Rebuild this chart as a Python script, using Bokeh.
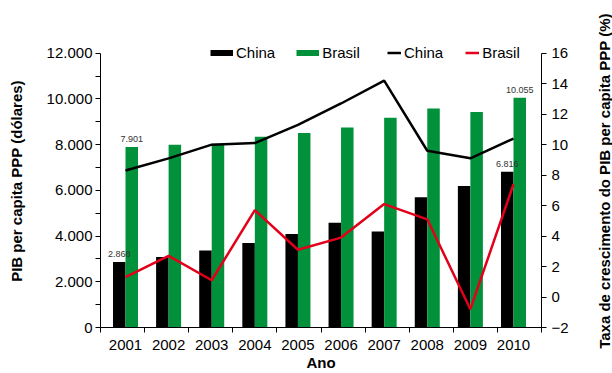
import math
from bokeh.plotting import figure
from bokeh.layouts import row
from bokeh.models import (Range1d, LinearAxis, FixedTicker, Legend, LegendItem,
                          ColumnDataSource)
from bokeh.core.properties import value
from bokeh.embed import file_html
from bokeh.resources import INLINE

# ---- data ----
years = [2001, 2002, 2003, 2004, 2005, 2006, 2007, 2008, 2009, 2010]
pib_china = [2868, 3080, 3370, 3700, 4090, 4580, 4200, 5700, 6190, 6816]
pib_brasil = [7901, 8000, 8040, 8340, 8510, 8750, 9180, 9580, 9430, 10055]
cresc_china = [8.3, 9.1, 10.0, 10.1, 11.3, 12.7, 14.2, 9.6, 9.1, 10.4]
cresc_brasil = [1.3, 2.7, 1.1, 5.7, 3.1, 3.9, 6.1, 5.1, -0.8, 7.4]
left_ticks = [0, 2000, 4000, 6000, 8000, 10000, 12000]
right_ticks = [-2, 0, 2, 4, 6, 8, 10, 12, 14, 16]

FONT = "Liberation Sans"
GREEN = "#00913a"
RED = "#e2001a"

TITLE_W = 19
W, H = 612 - TITLE_W, 373
BL, BR, BT, BB = 100, W - 541, 34, 46
FW = W - BL - BR
FH = H - BT - BB
TOP_AXIS_PX = 52.7          # screen y of the 12.000 / 16 tick
AX_H = (H - BB) - TOP_AXIS_PX
pad = FH / AX_H

px_per_year = 43.11
x0 = years[0] - 25 / px_per_year
x1 = x0 + FW / px_per_year
bw = 0.29

lmin, lmax = left_ticks[0], left_ticks[-1]
rmin, rmax = right_ticks[0], right_ticks[-1]

p = figure(width=W, height=H, output_backend="svg", toolbar_location=None,
           x_range=Range1d(x0, x1),
           y_range=Range1d(lmin, lmin + (lmax - lmin) * pad),
           min_border_left=BL, min_border_right=BR, min_border_top=BT,
           min_border_bottom=BB)
p.extra_y_ranges = {"taxa": Range1d(rmin, rmin + (rmax - rmin) * pad)}
p.grid.visible = False
p.outline_line_color = None
p.background_fill_color = "white"
p.border_fill_color = "white"

src = ColumnDataSource(dict(
    xc=[y - bw / 2 for y in years], xb=[y + bw / 2 for y in years], x=years,
    china=pib_china, brasil=pib_brasil, cc=cresc_china, cb=cresc_brasil))

p.vbar(x="xc", top="china", width=bw, source=src, fill_color="black", line_color=None)
p.vbar(x="xb", top="brasil", width=bw, source=src, fill_color=GREEN, line_color=None)
l_cc = p.line(x="x", y="cc", source=src, line_color="black", line_width=2.5, y_range_name="taxa")
l_cb = p.line(x="x", y="cb", source=src, line_color=RED, line_width=2.5, y_range_name="taxa")

# value annotations (first and last year)
def fmt(v):
    return f"{v:,}".replace(",", ".")

idx = [0, len(years) - 1]
ann = ColumnDataSource(dict(
    x=[years[i] - bw / 2 for i in idx] + [years[i] + bw / 2 for i in idx],
    y=[pib_china[i] for i in idx] + [pib_brasil[i] for i in idx],
    t=[fmt(pib_china[i]) for i in idx] + [fmt(pib_brasil[i]) for i in idx]))
p.text(x="x", y="y", text="t", source=ann, text_font=value(FONT),
       text_font_size="9px", text_color="#333333", text_align="center",
       text_baseline="bottom", y_offset=-5)

# axes
xa = p.xaxis[0]
xa.ticker = FixedTicker(ticks=years,
                        minor_ticks=[x0 + k * (x1 - x0) / 10 for k in range(11)])
xa.major_label_overrides = {y: str(y) for y in years}
xa.major_tick_out = 0
xa.major_tick_in = 0
xa.minor_tick_out = 5
xa.minor_tick_in = 0
xa.major_label_standoff = 7
xa.axis_label = "Ano"
xa.axis_label_standoff = 1

ya = p.yaxis[0]
ya.ticker = FixedTicker(ticks=left_ticks,
                        minor_ticks=[t + 1000 for t in left_ticks[:-1]])
ya.major_label_overrides = {t: fmt(t) for t in left_ticks}
ya.bounds = (lmin, lmax)
ya.major_tick_out = 5
ya.major_tick_in = 0
ya.minor_tick_out = 5
ya.minor_tick_in = 0
ya.major_label_standoff = 3
ya.axis_label = "PIB per capita PPP (dólares)"
ya.axis_label_standoff = 19

ra = LinearAxis(y_range_name="taxa", ticker=FixedTicker(ticks=right_ticks))
ra.bounds = (rmin, rmax)
ra.major_tick_out = 5
ra.major_tick_in = 0
ra.minor_tick_out = 0
ra.minor_tick_in = 0
ra.major_label_standoff = 5
p.add_layout(ra, "right")

for ax in (xa, ya, ra):
    ax.axis_line_color = "black"
    ax.axis_line_width = 1
    ax.major_tick_line_color = "black"
    ax.minor_tick_line_color = "black"
    ax.major_label_text_font = FONT
    ax.major_label_text_font_size = "15px"
    ax.major_label_text_color = "black"
    ax.axis_label_text_font = FONT
    ax.axis_label_text_font_size = "15px"
    ax.axis_label_text_font_style = "bold"
    ax.axis_label_text_color = "black"

# legend swatches (hidden helper renderers drawn only in the legends)
lg_c = p.line(x="x", y="china", source=src, line_color="black", line_width=6, visible=False)
lg_b = p.line(x="x", y="brasil", source=src, line_color=GREEN, line_width=6, visible=False)

LEG_H = 17
leg_vy = (H - BB) - TOP_AXIS_PX - LEG_H / 2

def make_legend(items, gw, x_screen, spacing):
    lg = Legend(items=items, orientation="horizontal", location=(x_screen - BL, leg_vy),
                glyph_width=gw, glyph_height=LEG_H, label_height=LEG_H,
                label_standoff=3, spacing=spacing, padding=0, margin=0,
                background_fill_alpha=0, border_line_color=None,
                label_text_font=FONT, label_text_font_size="15px",
                label_text_color="black")
    p.add_layout(lg, "center")

make_legend([LegendItem(label="China", renderers=[lg_c]),
             LegendItem(label="Brasil", renderers=[lg_b])],
            23, 210, 21)
make_legend([LegendItem(label="China", renderers=[l_cc]),
             LegendItem(label="Brasil", renderers=[l_cb])],
            14, 387, 22)

# right-hand axis title (reads bottom to top): the label of a bare left axis
# in a narrow companion figure placed to the right of the chart
pt = figure(width=TITLE_W, height=H, output_backend="svg", toolbar_location=None,
            x_range=Range1d(0, 1), y_range=Range1d(0, 1),
            min_border_left=0, min_border_right=0, min_border_top=0,
            min_border_bottom=0)
pt.xaxis.visible = False
pt.grid.visible = False
pt.outline_line_color = None
pt.background_fill_color = "white"
pt.border_fill_color = "white"
ta = pt.yaxis[0]
ta.ticker = FixedTicker(ticks=[])
ta.axis_line_color = None
ta.major_tick_out = 0
ta.major_tick_in = 0
ta.minor_tick_out = 0
ta.minor_tick_in = 0
ta.major_label_standoff = 0
ta.axis_label_standoff = 0
ta.axis_label = "Taxa de crescimento do PIB per capita PPP (%)"
ta.axis_label_text_font = FONT
ta.axis_label_text_font_size = "15px"
ta.axis_label_text_font_style = "bold"
ta.axis_label_text_color = "black"

layout = row(p, pt, spacing=0)
open("out.html", "w").write(file_html(layout, INLINE))
